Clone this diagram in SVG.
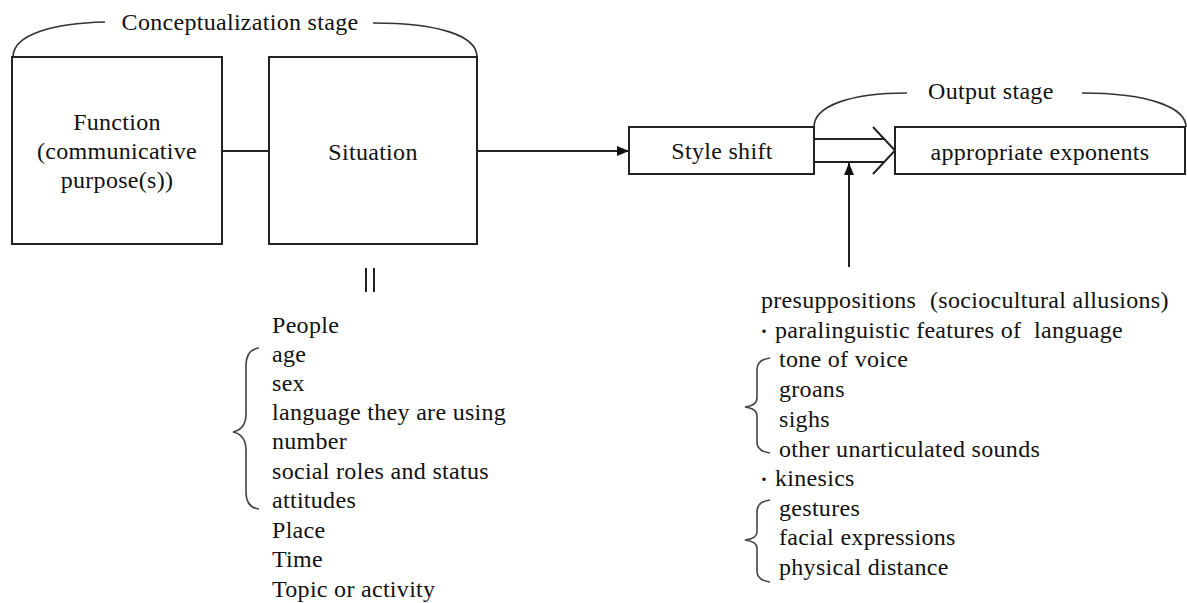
<svg xmlns="http://www.w3.org/2000/svg" width="1187" height="603" viewBox="0 0 1187 603">
<style>
  .t { font-family: "Liberation Serif", "DejaVu Serif", serif; font-size: 24px; letter-spacing: 0.3px; fill: #111; }
  .c { text-anchor: middle; }
  .box { fill: #fff; stroke: #222; stroke-width: 2; }
  .ln { fill: none; stroke: #222; stroke-width: 2; }
  .arc { fill: none; stroke: #333; stroke-width: 1.6; }
  .brace { fill: none; stroke: #444; stroke-width: 1.6; }
  .dot { font-family: "Noto Sans CJK JP", sans-serif; font-size: 16px; fill: #111; }
</style>
<defs>
  <marker id="ah" markerWidth="12" markerHeight="10" refX="12" refY="5" orient="auto" markerUnits="userSpaceOnUse">
    <path d="M0,0 L12,5 L0,10 Z" fill="#111"/>
  </marker>
</defs>

<g id="stage-conceptualization">
  <path class="arc" d="M13,57 C13,34 55,23 105,22"/>
  <path class="arc" d="M373,23 C440,23 477,36 477,57"/>
  <text class="t c" x="240" y="30">Conceptualization stage</text>
</g>

<g id="stage-output">
  <path class="arc" d="M814,127 C814,106 850,93 907,93"/>
  <path class="arc" d="M1082,93 C1150,93 1186,108 1186,127"/>
  <text class="t" x="928" y="99">Output stage</text>
</g>

<g id="connectors">
  <line class="ln" x1="222" y1="151" x2="269" y2="151"/>
  <line class="ln" x1="477" y1="151" x2="629" y2="151" marker-end="url(#ah)"/>
  <line class="ln" x1="814" y1="139" x2="885" y2="139"/>
  <line class="ln" x1="814" y1="162" x2="885" y2="162"/>
  <polyline class="ln" points="873,127 895,150.5 873,174"/>
  <line class="ln" x1="849" y1="267" x2="849" y2="163" marker-end="url(#ah)"/>
  <line class="ln" x1="366" y1="268" x2="366" y2="292"/>
  <line class="ln" x1="374" y1="268" x2="374" y2="292"/>
</g>

<g id="node-function">
  <rect class="box" x="12" y="57" width="210" height="187"/>
  <text class="t c" x="117" y="130">Function</text>
  <text class="t c" x="117" y="159">(communicative</text>
  <text class="t c" x="117" y="188">purpose(s))</text>
</g>

<g id="node-situation">
  <rect class="box" x="269" y="57" width="208" height="187"/>
  <text class="t c" x="373" y="160">Situation</text>
</g>

<g id="node-style-shift">
  <rect class="box" x="629" y="127" width="185" height="47"/>
  <text class="t c" x="722" y="159">Style shift</text>
</g>

<g id="node-appropriate-exponents">
  <rect class="box" x="895" y="127" width="290" height="47"/>
  <text class="t c" x="1040" y="160">appropriate exponents</text>
</g>

<g id="situation-list">
  <path class="brace" d="M259,348 C250,349 246,356 246,366 L246,414 C246,424 242,430 233,432 C242,434 246,440 246,450 L246,492 C246,502 250,508 259,509"/>
  <text class="t" x="272" y="333">People</text>
  <text class="t" x="272" y="362">age</text>
  <text class="t" x="272" y="391">sex</text>
  <text class="t" x="272" y="420">language they are using</text>
  <text class="t" x="272" y="449">number</text>
  <text class="t" x="272" y="479">social roles and status</text>
  <text class="t" x="272" y="508">attitudes</text>
  <text class="t" x="272" y="538">Place</text>
  <text class="t" x="272" y="567">Time</text>
  <text class="t" x="272" y="597">Topic or activity</text>
</g>

<g id="presupposition-list">
  <text class="t" x="761" y="308">presuppositions<tspan x="930">(sociocultural allusions)</tspan></text>
  <text class="dot" x="756" y="337">・</text>
  <text class="t" x="775" y="338" xml:space="preserve">paralinguistic features of  language</text>
  <path class="brace" d="M770,358 C762,359 757,363 757,370 L757,398 C757,403 753,406 745,407 C753,408 757,411 757,416 L757,442 C757,449 762,452 770,453"/>
  <text class="t" x="779" y="367">tone of voice</text>
  <text class="t" x="779" y="397">groans</text>
  <text class="t" x="779" y="427">sighs</text>
  <text class="t" x="779" y="457">other unarticulated sounds</text>
  <text class="dot" x="756" y="485">・</text>
  <text class="t" x="775" y="486">kinesics</text>
  <path class="brace" d="M770,500 C762,501 757,505 757,512 L757,532 C757,537 753,539 745,540 C753,541 757,543 757,548 L757,571 C757,578 762,581 770,582"/>
  <text class="t" x="779" y="516">gestures</text>
  <text class="t" x="779" y="545">facial expressions</text>
  <text class="t" x="779" y="575">physical distance</text>
</g>
</svg>
